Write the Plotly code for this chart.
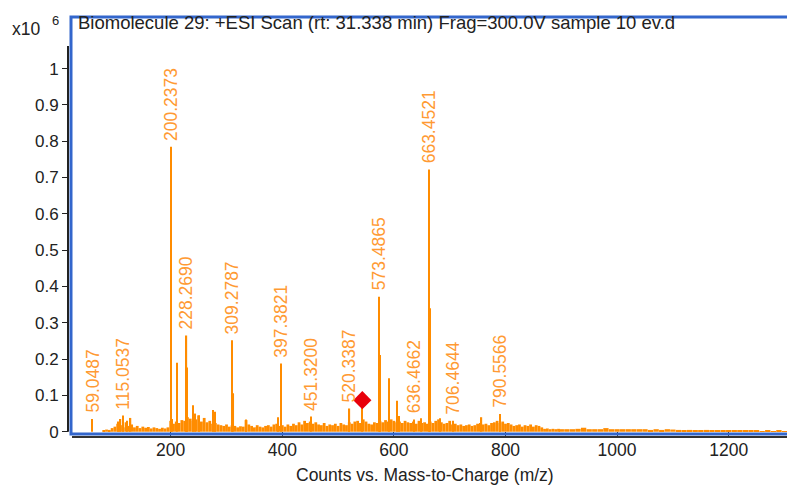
import plotly.graph_objects as go

# ---------------- data (intensity in units of 1e6 counts) ----------------
peak_mz = [59.0487, 105.1, 110.1, 115.0537, 121.1, 128.1, 200.2373, 202.2, 211.9,
           228.2690, 229.3, 239.4, 244.2, 250.2, 276.2, 279.2, 309.2787, 312.3,
           335.2, 391.7, 397.3821, 451.3200, 520.3387, 543.4, 573.4865, 575.5,
           591.8, 605.0, 609.7, 636.4662, 648.5, 663.4521, 664.45, 682.6,
           706.4644, 757.0, 790.5566]
peak_int = [0.035, 0.028, 0.035, 0.045, 0.030, 0.038, 0.785, 0.035, 0.190,
            0.265, 0.177, 0.073, 0.050, 0.045, 0.060, 0.055, 0.252, 0.106,
            0.034, 0.040, 0.188, 0.042, 0.064, 0.083, 0.372, 0.211,
            0.147, 0.085, 0.043, 0.034, 0.037, 0.722, 0.340, 0.037,
            0.030, 0.040, 0.049]

labelled_mz = [59.0487, 115.0537, 200.2373, 228.2690, 309.2787, 397.3821, 451.3200,
               520.3387, 573.4865, 636.4662, 663.4521, 706.4644, 790.5566]
labelled_text = ["59.0487", "115.0537", "200.2373", "228.2690", "309.2787", "397.3821",
                 "451.3200", "520.3387", "573.4865", "636.4662", "663.4521",
                 "706.4644", "790.5566"]

precursor_mz = [543.4]
precursor_int = [0.087]

# baseline noise grid (m/z) and read-off heights
noise_mz = list(range(80, 900, 5)) + list(range(900, 1310, 10))
noise_int = [
    0.004, 0.006, 0.005, 0.010, 0.014, 0.022, 0.018, 0.012, 0.026, 0.016,   # 80-125
    0.020, 0.012, 0.016, 0.010, 0.014, 0.011, 0.013, 0.009, 0.012, 0.010,   # 130-175
    0.008, 0.011, 0.009, 0.012, 0.030, 0.022, 0.028, 0.024, 0.032, 0.030,   # 180-225
    0.040, 0.036, 0.030, 0.034, 0.045, 0.028, 0.038, 0.026, 0.030, 0.022,   # 230-275
    0.024, 0.020, 0.018, 0.016, 0.020, 0.014, 0.018, 0.016, 0.012, 0.015,   # 280-325
    0.014, 0.032, 0.020, 0.016, 0.012, 0.018, 0.014, 0.012, 0.016, 0.018,   # 330-375
    0.014, 0.020, 0.022, 0.016, 0.018, 0.014, 0.020, 0.016, 0.022, 0.018,   # 380-425
    0.026, 0.020, 0.030, 0.024, 0.028, 0.022, 0.026, 0.020, 0.018, 0.024,   # 430-475
    0.016, 0.020, 0.018, 0.022, 0.016, 0.024, 0.020, 0.018, 0.026, 0.022,   # 480-525
    0.028, 0.030, 0.024, 0.034, 0.028, 0.022, 0.020, 0.026, 0.024, 0.030,   # 530-575
    0.026, 0.032, 0.028, 0.034, 0.030, 0.026, 0.028, 0.024, 0.030, 0.026,   # 580-625
    0.024, 0.028, 0.022, 0.030, 0.024, 0.026, 0.022, 0.028, 0.024, 0.030,   # 630-675
    0.034, 0.026, 0.022, 0.024, 0.030, 0.020, 0.022, 0.018, 0.020, 0.016,   # 680-725
    0.018, 0.020, 0.016, 0.018, 0.022, 0.024, 0.020, 0.022, 0.018, 0.024,   # 730-775
    0.026, 0.030, 0.024, 0.028, 0.022, 0.024, 0.020, 0.016, 0.018, 0.020,   # 780-825
    0.014, 0.018, 0.016, 0.020, 0.014, 0.018, 0.016, 0.012, 0.008, 0.009,   # 830-875
    0.007, 0.008, 0.007, 0.008,                                             # 880-895
    0.007, 0.007, 0.007, 0.008, 0.011, 0.007, 0.007, 0.007, 0.010, 0.007,   # 900-990
    0.007, 0.007, 0.007, 0.007, 0.007, 0.007, 0.005, 0.007, 0.005, 0.007,   # 1000-1090
    0.006, 0.005, 0.004, 0.005, 0.004, 0.004, 0.005, 0.004, 0.004, 0.004,   # 1100-1190
    0.003, 0.003, 0.004, 0.003, 0.003, 0.003, 0.002, 0.003, 0.002, 0.003,   # 1200-1290
    0.002,                                                                   # 1300
]

x_ticks = [200, 400, 600, 800, 1000, 1200]
y_ticks = [0, 0.1, 0.2, 0.3, 0.4, 0.5, 0.6, 0.7, 0.8, 0.9, 1.0]
y_ticktext = ["0", "0.1", "0.2", "0.3", "0.4", "0.5", "0.6", "0.7", "0.8", "0.9", "1"]

title_text = "Biomolecule 29: +ESI Scan (rt: 31.338 min) Frag=300.0V sample 10 ev.d"
x_title = "Counts vs. Mass-to-Charge (m/z)"

# ---------------- figure ----------------
W, H = 787, 489
ORANGE = "#FF8C00"
LABEL = "#FF9A33"
FONT = "Liberation Sans"
DARK = "#222222"

def px_x(p):
    return p / W

def px_y(p):
    return 1 - p / H

fig = go.Figure()

noise_w = [5.0 if m < 900 else 9.5 for m in noise_mz]
fig.add_trace(go.Bar(x=noise_mz, y=noise_int, width=noise_w,
                     marker=dict(color=ORANGE, line=dict(width=0)),
                     hoverinfo="skip", showlegend=False))
fig.add_trace(go.Bar(x=peak_mz, y=peak_int, width=[2.4] * len(peak_mz),
                     marker=dict(color=ORANGE, line=dict(width=0)),
                     showlegend=False))
fig.add_trace(go.Scatter(x=precursor_mz, y=precursor_int, mode="markers",
                         marker=dict(symbol="diamond", size=14, color="#E8000B"),
                         showlegend=False))

lookup = dict(zip(peak_mz, peak_int))
for m, t in zip(labelled_mz, labelled_text):
    fig.add_annotation(x=m, y=lookup[m], text=t, textangle=-90, showarrow=False,
                       xanchor="center", yanchor="bottom", yshift=4,
                       font=dict(family=FONT, size=17.5, color=LABEL))

# title inside frame
fig.add_annotation(x=px_x(76), y=px_y(23), xref="paper", yref="paper", text=title_text,
                   showarrow=False, xanchor="left", yanchor="middle",
                   font=dict(family=FONT, size=18.5, color=DARK))
# exponent label
fig.add_annotation(x=px_x(10), y=px_y(29), xref="paper", yref="paper", text="x10",
                   showarrow=False, xanchor="left", yanchor="middle",
                   font=dict(family=FONT, size=17.5, color=DARK))
fig.add_annotation(x=px_x(50), y=px_y(21), xref="paper", yref="paper", text="6",
                   showarrow=False, xanchor="left", yanchor="middle",
                   font=dict(family=FONT, size=13, color=DARK))
# x-axis title
fig.add_annotation(x=px_x(425), y=px_y(475), xref="paper", yref="paper", text=x_title,
                   showarrow=False, xanchor="center", yanchor="middle",
                   font=dict(family=FONT, size=17.5, color=DARK))

# blue frame
fig.add_shape(type="rect", xref="paper", yref="paper",
              x0=px_x(71), x1=px_x(800), y0=px_y(434), y1=px_y(17),
              line=dict(color="#3366CC", width=3), fillcolor="rgba(0,0,0,0)", layer="above")
# black y axis line
fig.add_shape(type="line", xref="paper", yref="y", x0=px_x(68), x1=px_x(68),
              y0=0, y1=1.062, line=dict(color=DARK, width=2))

fig.update_layout(
    width=W, height=H, margin=dict(l=0, r=0, t=0, b=0, pad=0, autoexpand=False),
    paper_bgcolor="white", plot_bgcolor="white",
    barmode="overlay", showlegend=False,
    font=dict(family=FONT, size=16, color=DARK),
    xaxis=dict(domain=[px_x(72), 1], range=[23.1, 1304.5], anchor="free",
               position=px_y(437), showline=True, linecolor="#333333", linewidth=2,
               showgrid=False, zeroline=False, ticks="inside", ticklen=4,
               tickcolor=DARK, tickvals=x_ticks, automargin=False,
               ticklabelstandoff=-3,
               tickfont=dict(family=FONT, size=17.5, color=DARK)),
    yaxis=dict(domain=[px_y(435), px_y(17)], range=[-0.009, 1.142], anchor="free",
               position=px_x(68), showline=False, showgrid=False, zeroline=False,
               ticks="outside", ticklen=6, tickcolor=DARK, automargin=False,
               tickvals=y_ticks, ticktext=y_ticktext,
               tickfont=dict(family=FONT, size=17, color=DARK)),
)

fig.write_html("out.html")
